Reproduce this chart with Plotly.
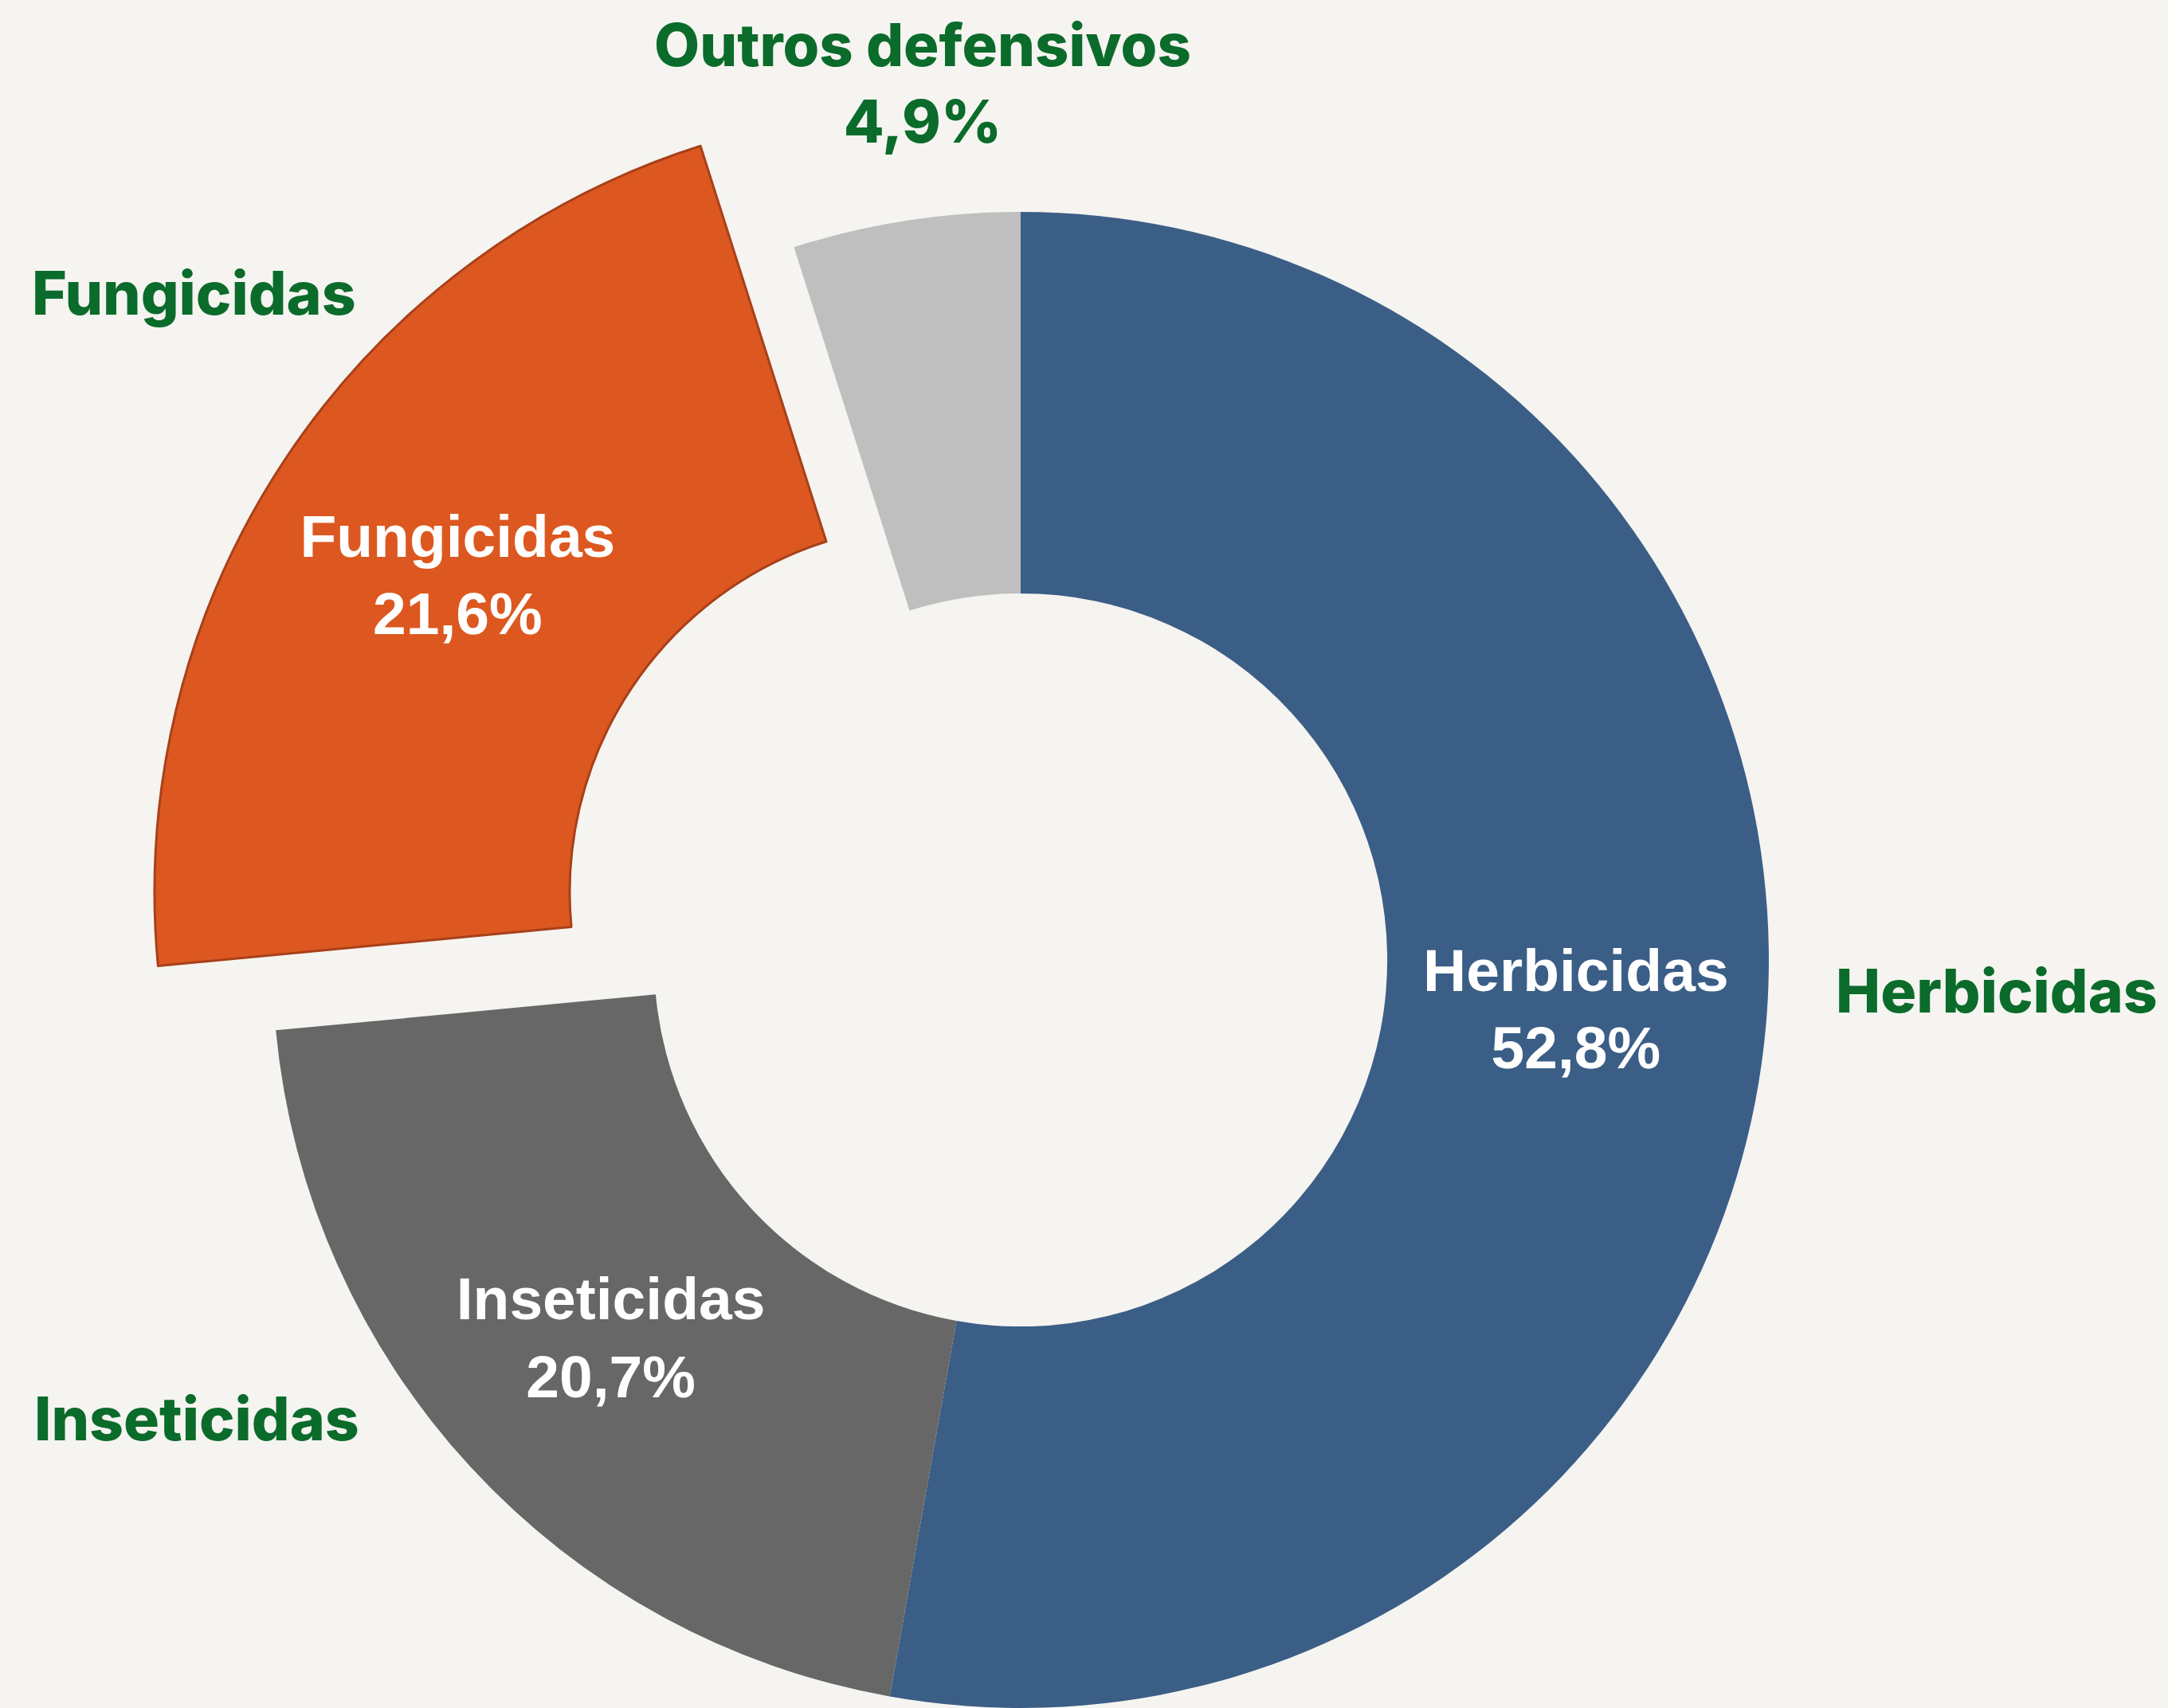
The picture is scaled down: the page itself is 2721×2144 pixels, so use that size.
import plotly.graph_objects as go

# data
LABELS = ["Herbicidas", "Inseticidas", "Fungicidas", "Outros defensivos"]
VALUES = [52.8, 20.7, 21.6, 4.9]
COLORS = ["#3b5e86", "#676767", "#dc5820", "#bfbfbf"]

W, H = 2721, 2144
BG = "#f5f4f0"
GREEN = "#0b6b2b"
PULLED = "Fungicidas"


def dom(cx, cy, r):
    # pixel centre/radius -> paper domain (no margins)
    return dict(x=[(cx - r) / W, (cx + r) / W],
                y=[(H - cy - r) / H, (H - cy + r) / H])


main_colors = [c if l != PULLED else "rgba(0,0,0,0)" for l, c in zip(LABELS, COLORS)]
main_pos = ["inside" if l in ("Herbicidas", "Inseticidas") else "none" for l in LABELS]
pull_colors = [c if l == PULLED else "rgba(0,0,0,0)" for l, c in zip(LABELS, COLORS)]
pull_pos = ["inside" if l == PULLED else "none" for l in LABELS]
pull_lines = ["#a8401a" if l == PULLED else "rgba(0,0,0,0)" for l in LABELS]

inside_font = dict(family="Liberation Sans, Arial, sans-serif", size=75,
                   color="white", weight="bold")

fig = go.Figure()
fig.add_trace(go.Pie(
    labels=LABELS, values=VALUES, sort=False, direction="clockwise", rotation=0,
    hole=0.49, marker=dict(colors=main_colors, line=dict(width=0)),
    textposition=main_pos, texttemplate="%{label}<br>%{value:.1f}%",
    insidetextorientation="horizontal", insidetextfont=inside_font,
    domain=dom(1281, 1205, 939), hoverinfo="skip", showlegend=False,
))
fig.add_trace(go.Pie(
    labels=LABELS, values=VALUES, sort=False, direction="clockwise", rotation=0,
    hole=0.47, marker=dict(colors=pull_colors, line=dict(width=3, color=pull_lines)),
    textposition=pull_pos, texttemplate="%{label}<br>%{value:.1f}%",
    insidetextorientation="horizontal", insidetextfont=inside_font,
    domain=dom(1177, 1120, 983), hoverinfo="skip", showlegend=False,
))

# outer green labels
pos = {"Herbicidas": (2506, 1243), "Inseticidas": (247, 1780),
       "Fungicidas": (243, 367), "Outros defensivos": (1158, 104)}
for lab, val in zip(LABELS, VALUES):
    x, y = pos[lab]
    txt = lab
    size = 75
    if lab == "Outros defensivos":
        txt = lab + "<br>" + f"{val:.1f}%".replace(".", ",")
        size = 74
    fig.add_annotation(text=txt, x=x / W, y=1 - y / H, xref="paper", yref="paper",
                       showarrow=False, xanchor="center", yanchor="middle",
                       font=dict(family="Inter, sans-serif", size=size,
                                 color=GREEN, weight=800))

fig.update_layout(
    width=W, height=H,
    margin=dict(l=0, r=0, t=0, b=0),
    paper_bgcolor=BG, plot_bgcolor=BG,
    separators=",.",
    showlegend=False,
)

fig.write_html("out.html", config={"displayModeBar": False},
               post_script="document.body.style.margin='0';")
